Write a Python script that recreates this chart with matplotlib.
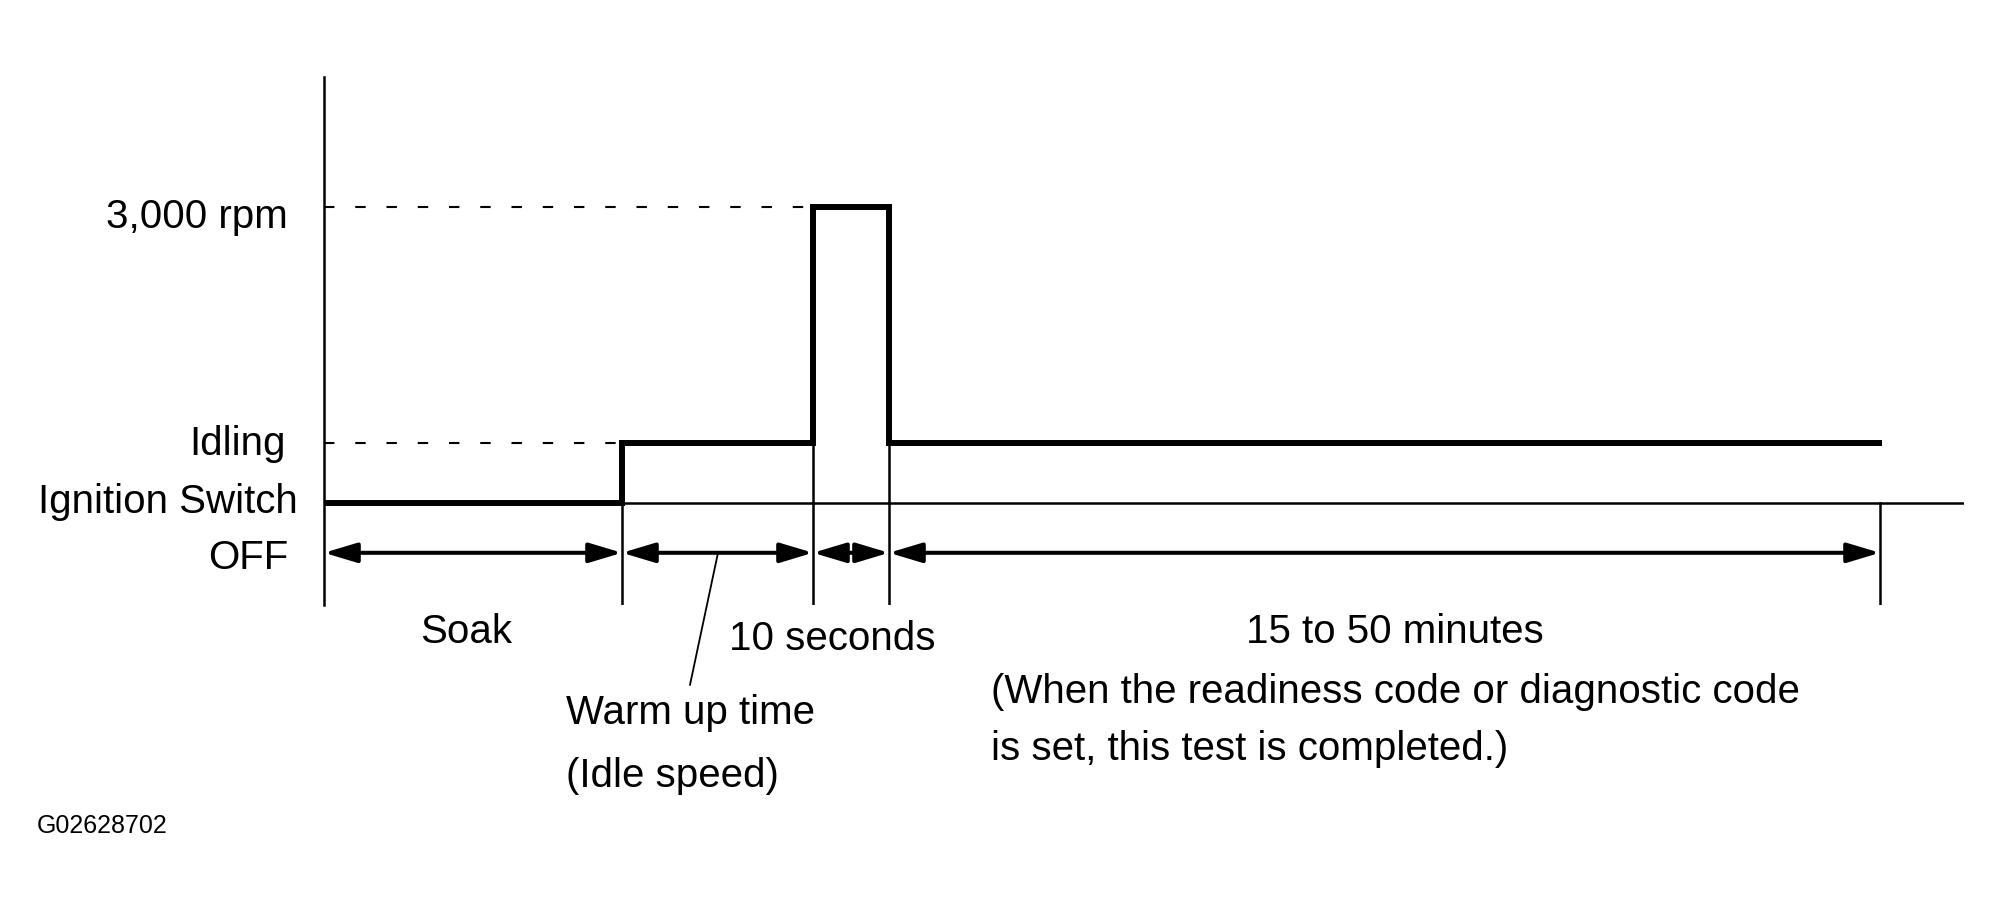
import matplotlib
matplotlib.use("Agg")
import matplotlib.pyplot as plt

plt.rcParams['font.family'] = ['Liberation Sans', 'DejaVu Sans']

# ---- data (schematic units) ----
boundaries = [0.0, 2.98, 4.89, 5.65, 15.56]        # soak end, warm-up end, 10 s pulse end, test end
signal_times = [0.0, 2.98, 4.89, 5.65, 15.58]
level_names = ["Ignition Switch OFF", "Idling", "3,000 rpm"]
level_values = [0.0, 1.0, 4.93]
signal_levels = [0.0, 1.0, 4.93, 1.0, 1.0]
period_labels = ["Soak", "Warm up time\n(Idle speed)", "10 seconds",
                 "15 to 50 minutes\n(When the readiness code or diagnostic code\nis set, this test is completed.)"]
figure_code = "G02628702"

FS = 29
fig = plt.figure(figsize=(20.02, 9.09), dpi=100)
ax = fig.add_axes([324/2002, (909-605)/909, (1964-324)/2002, (605-77)/909])
ax.set_xlim(0, 16.4)
ax.set_ylim(-1.7, 7.1)
for s in ["top", "right", "bottom"]:
    ax.spines[s].set_visible(False)
ax.spines["left"].set_linewidth(1.8)
ax.set_xticks([])
ax.set_yticks([])

thin = 1.8
# baseline (OFF level)
ax.plot([0, 16.4], [level_values[0]] * 2, color="black", lw=thin, solid_capstyle="butt")
# dashed reference lines
ax.plot([0, boundaries[2]], [level_values[2]] * 2, color="black", lw=1.5, dashes=(5, 10))
ax.plot([0, boundaries[1]], [level_values[1]] * 2, color="black", lw=1.5, dashes=(5, 10))
# boundary ticks below the baseline / up to idle
for b in boundaries[1:]:
    ax.plot([b, b], [-1.7, level_values[0]], color="black", lw=thin)
for b in boundaries[2:4]:
    ax.plot([b, b], [level_values[0], level_values[1]], color="black", lw=thin)

# signal
ax.plot(signal_times, signal_levels, drawstyle="steps-post", color="black", lw=4.3,
        solid_joinstyle="miter", solid_capstyle="butt")

# dimension arrows
ya = -0.83
for a, b in zip(boundaries[:-1], boundaries[1:]):
    ax.annotate("", xy=(b, ya), xytext=(a, ya),
                arrowprops=dict(arrowstyle="<|-|>,head_length=1.0,head_width=0.3",
                                mutation_scale=20, color="black", lw=2.9,
                                shrinkA=0, shrinkB=0))

# leader line for warm-up time
ax.plot([3.94, 3.66], [ya, -3.03], color="black", lw=1.3, clip_on=False)

# level labels
ax.text(-0.36, 4.583, level_names[2], ha="right", va="baseline", fontsize=FS, clip_on=False)
ax.text(-0.38, 0.80, level_names[1], ha="right", va="baseline", fontsize=FS, clip_on=False)
ign, off = level_names[0].rsplit(" ", 1)
ax.text(-0.26, -0.167, ign, ha="right", va="baseline", fontsize=FS, clip_on=False)
ax.text(-0.36, -1.10, off, ha="right", va="baseline", fontsize=FS, clip_on=False)

# period labels
ax.text(1.42, -2.33, period_labels[0], ha="center", va="baseline", fontsize=FS, clip_on=False)
w1, w2 = period_labels[1].split("\n")
ax.text(2.42, -3.69, w1, ha="left", va="baseline", fontsize=FS, clip_on=False)
ax.text(2.42, -4.73, w2, ha="left", va="baseline", fontsize=FS, clip_on=False)
ax.text(5.08, -2.45, period_labels[2], ha="center", va="baseline", fontsize=FS, clip_on=False)
p1, p2, p3 = period_labels[3].split("\n")
ax.text(10.71, -2.33, p1, ha="center", va="baseline", fontsize=FS, clip_on=False)
ax.text(6.67, -3.335, p2, ha="left", va="baseline", fontsize=FS, clip_on=False)
ax.text(6.67, -4.28, p3, ha="left", va="baseline", fontsize=FS, clip_on=False)

fig.text(37/2002, (909-833)/909, figure_code, ha="left", va="baseline", fontsize=18)

fig.savefig("out.png", dpi=100, facecolor="white")
